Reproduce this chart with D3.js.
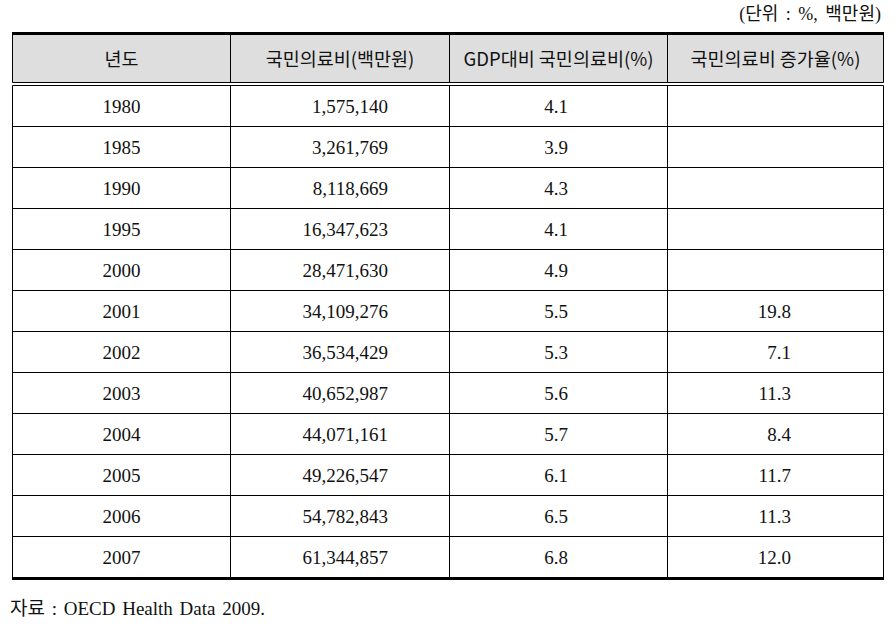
<!DOCTYPE html>
<html>
<head>
<meta charset="utf-8">
<script src="https://cdn.jsdelivr.net/npm/d3@7"></script>
<style>
  body { margin: 0; background: #fff; }
</style>
</head>
<body>
<script>
// table data
const headers = ["년도", "국민의료비(백만원)", "GDP대비 국민의료비(%)", "국민의료비 증가율(%)"];
const years = ["1980", "1985", "1990", "1995", "2000", "2001", "2002", "2003", "2004", "2005", "2006", "2007"];
const spending = ["1,575,140", "3,261,769", "8,118,669", "16,347,623", "28,471,630", "34,109,276", "36,534,429", "40,652,987", "44,071,161", "49,226,547", "54,782,843", "61,344,857"];
const gdpShare = ["4.1", "3.9", "4.3", "4.1", "4.9", "5.5", "5.3", "5.6", "5.7", "6.1", "6.5", "6.8"];
const growth = ["", "", "", "", "", "19.8", "7.1", "11.3", "8.4", "11.7", "11.3", "12.0"];
const unitNote = "(단위 : %, 백만원)";
const sourceNote = "자료 : OECD Health Data 2009.";

const W = 896, H = 639;
const tblLeft = 12.5, tblRight = 883.5;
const tblTop = 35, headerBottom = 82.5, bodyTop = 85.5, bodyBottom = 577;
const colEdges = [tblLeft, 230.5, 449.5, 667.5, tblRight];

const serif = "'Liberation Serif', 'DejaVu Serif', 'Noto Sans CJK KR', serif";
const sans = "'Noto Sans CJK KR', 'Noto Sans', sans-serif";

const svg = d3.select("body").append("svg")
    .attr("width", W)
    .attr("height", H);

// row scale for body rows
const y = d3.scaleBand()
    .domain(years)
    .range([bodyTop, bodyBottom]);

// header background
svg.append("rect")
    .attr("x", tblLeft).attr("y", tblTop)
    .attr("width", tblRight - tblLeft).attr("height", headerBottom - tblTop)
    .attr("fill", "#dedede");

// header text
svg.selectAll(".head")
    .data(headers)
    .enter()
    .append("text")
    .attr("x", (d, i) => (colEdges[i] + colEdges[i + 1]) / 2)
    .attr("y", (tblTop + headerBottom) / 2 + 7)
    .attr("text-anchor", "middle")
    .style("font-family", sans)
    .style("font-size", "18.5px")
    .attr("fill", "#111")
    .text(d => d);

// horizontal lines between body rows
svg.selectAll(".rowline")
    .data(years.slice(1))
    .enter()
    .append("line")
    .attr("x1", tblLeft).attr("x2", tblRight)
    .attr("y1", d => Math.round(y(d)) + 0.5)
    .attr("y2", d => Math.round(y(d)) + 0.5)
    .attr("stroke", "#000");

// double line under header
[headerBottom, bodyTop].forEach(v => {
    svg.append("line")
        .attr("x1", tblLeft).attr("x2", tblRight)
        .attr("y1", v).attr("y2", v)
        .attr("stroke", "#000");
});

// vertical lines (header part and body part separately, the gap stays white)
colEdges.forEach(x => {
    svg.append("line")
        .attr("x1", x).attr("x2", x)
        .attr("y1", tblTop).attr("y2", headerBottom)
        .attr("stroke", "#000");
    svg.append("line")
        .attr("x1", x).attr("x2", x)
        .attr("y1", bodyTop).attr("y2", bodyBottom)
        .attr("stroke", "#000");
});

// thick top and bottom rules
svg.append("rect")
    .attr("x", tblLeft - 0.5).attr("y", tblTop - 3)
    .attr("width", tblRight - tblLeft + 1).attr("height", 3)
    .attr("fill", "#000");
svg.append("rect")
    .attr("x", tblLeft - 0.5).attr("y", bodyBottom)
    .attr("width", tblRight - tblLeft + 1).attr("height", 3)
    .attr("fill", "#000");

// body cells
const cols = [
    { values: years, x: (colEdges[0] + colEdges[1]) / 2, anchor: "middle" },
    { values: spending, x: 388, anchor: "end" },
    { values: gdpShare, x: 568, anchor: "end" },
    { values: growth, x: 791, anchor: "end" }
];

cols.forEach(c => {
    svg.selectAll(null)
        .data(years)
        .enter()
        .append("text")
        .attr("x", c.x)
        .attr("y", d => y(d) + y.bandwidth() / 2 + 7)
        .attr("text-anchor", c.anchor)
        .style("font-family", serif)
        .style("font-size", "19px")
        .attr("fill", "#111")
        .text((d, i) => c.values[i]);
});

// unit note, top right
svg.append("text")
    .attr("x", 881)
    .attr("y", 20)
    .attr("text-anchor", "end")
    .style("font-family", serif)
    .style("font-size", "18px")
    .style("word-spacing", "3px")
    .attr("fill", "#111")
    .text(unitNote);

// source note
svg.append("text")
    .attr("x", 10)
    .attr("y", 615)
    .style("font-family", serif)
    .style("font-size", "19px")
    .style("word-spacing", "2px")
    .attr("fill", "#111")
    .text(sourceNote);
</script>
</body>
</html>
